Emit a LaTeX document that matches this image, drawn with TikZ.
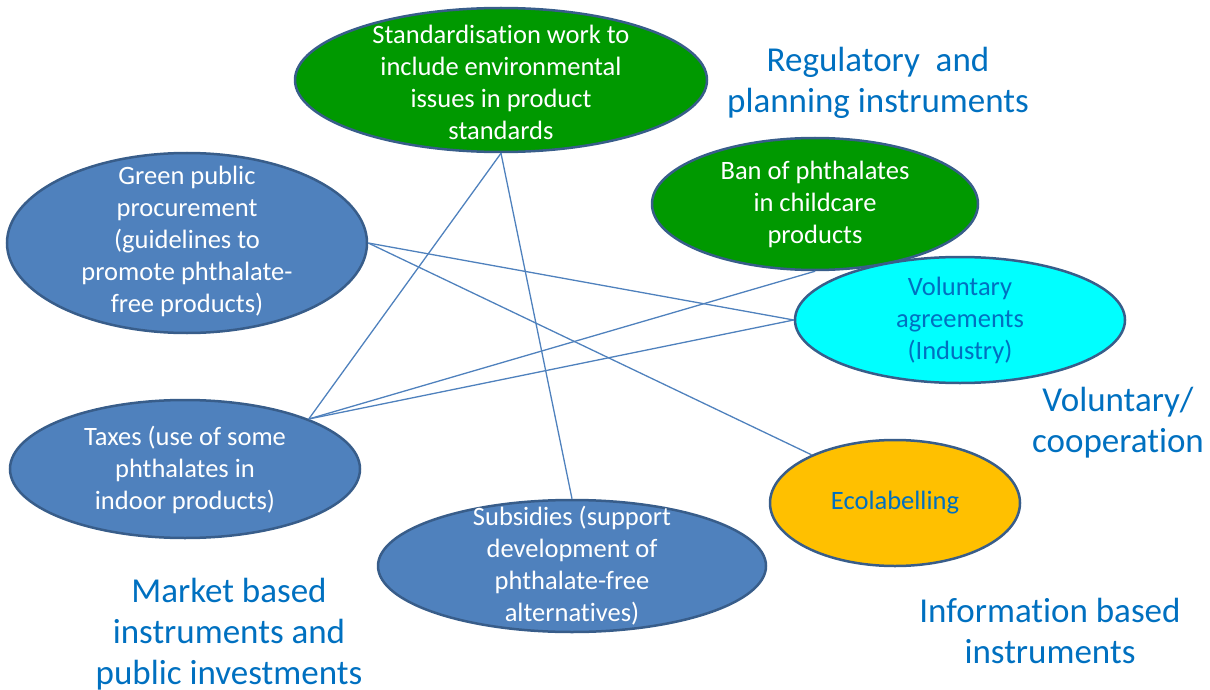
\documentclass[tikz,border=0pt]{standalone}
\usepackage{fontspec}
\setmainfont{Carlito}[Ligatures=NoCommon]
\usetikzlibrary{shapes.geometric}
\definecolor{grn}{HTML}{009900}
\definecolor{bfill}{HTML}{4F81BD}
\definecolor{bdraw}{HTML}{385D8A}
\definecolor{cyn}{HTML}{00FFFF}
\definecolor{org}{HTML}{FFC000}
\definecolor{tblue}{HTML}{0070C0}
\tikzset{
  ell/.style={ellipse, draw=bdraw, line width=2.5pt, inner sep=0pt},
  wtxt/.style={align=center, text=white, font=\fontsize{26.5}{32}\selectfont, inner sep=0pt},
  btxt/.style={align=center, text=tblue, font=\fontsize{26.5}{32}\selectfont, inner sep=0pt},
  cat/.style={align=center, text=tblue, font=\fontsize{35}{41}\selectfont, inner sep=0pt},
  conn/.style={draw=bfill, line width=1.3pt}
}
\begin{document}
\begin{tikzpicture}[x=1pt,y=-1pt]
\useasboundingbox (0,0) rectangle (1210,690);
% ellipses
\node[ell, fill=grn, minimum width=412pt, minimum height=144pt] (std) at (501,80) {};
\node[wtxt] (stdt) at (501,82) {Standardisation work to\\include environmental\\issues in product\\standards};
\node[ell, fill=bfill, minimum width=360pt, minimum height=180pt] (gpp) at (187,243) {};
\node[wtxt] (gppt) at (187,241) {Green public\\procurement\\(guidelines to\\promote phthalate-\\free products)};
\node[ell, fill=grn, minimum width=326pt, minimum height=132pt] (ban) at (815,204) {};
\node[wtxt] (bant) at (815,204) {Ban of phthalates\\in childcare\\products};
\node[ell, fill=cyn, minimum width=330pt, minimum height=126pt] (vol) at (960,320) {};
\node[btxt] (volt) at (960,320) {Voluntary\\agreements\\(Industry)};
\node[ell, fill=bfill, minimum width=350pt, minimum height=138pt] (tax) at (185,469) {};
\node[wtxt] (taxt) at (185,470) {Taxes (use of some\\phthalates in\\indoor products)};
\node[ell, fill=bfill, minimum width=388pt, minimum height=132pt] (sub) at (572,566) {};
\node[wtxt] (subt) at (572,566) {Subsidies (support\\development of\\phthalate-free\\alternatives)};
\node[ell, fill=org, minimum width=250pt, minimum height=126pt] (eco) at (895,503) {};
\node[btxt] (ecot) at (895,503) {Ecolabelling};
% connectors
\draw[conn] (std.south) -- (tax.22);
\draw[conn] (std.south) -- (sub.north);
\draw[conn] (gpp.east) -- (vol.west);
\draw[conn] (gpp.east) -- (eco.150);
\draw[conn] (tax.22) -- (ban.south);
\draw[conn] (tax.22) -- (vol.west);
% category labels
\node[cat] (reg) at (878,83) {Regulatory~ and\\planning instruments};
\node[cat] (volc) at (1118,423) {Voluntary/\\cooperation};
\node[cat] (mkt) at (229,634) {Market based\\instruments and\\public investments};
\node[cat] (inf) at (1050,631) {Information based\\instruments};
\end{tikzpicture}
\end{document}
